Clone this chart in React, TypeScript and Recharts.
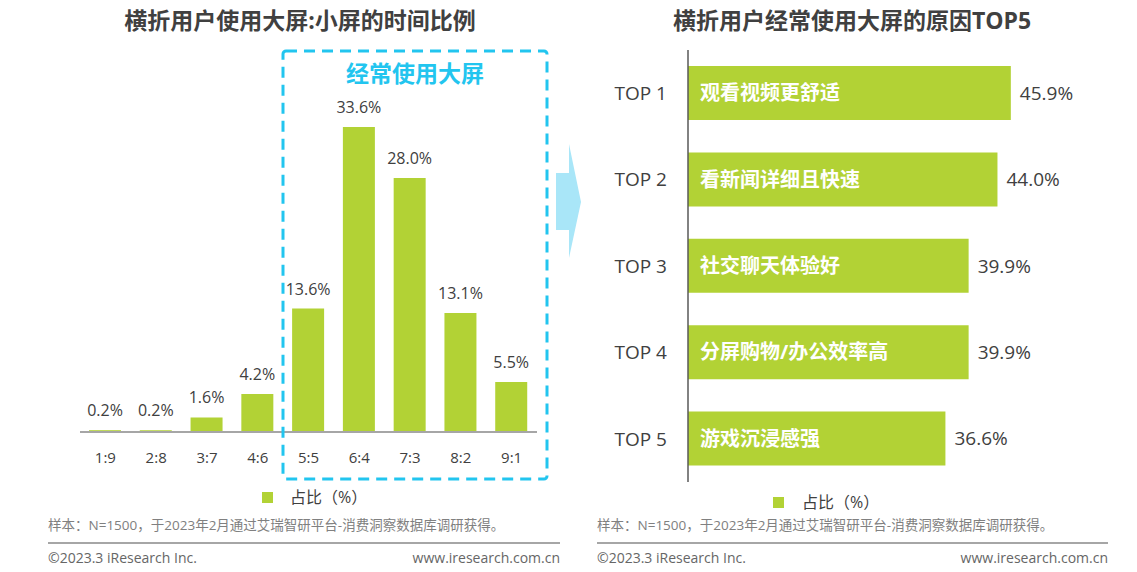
import React from 'react'
import { BarChart, Bar, XAxis, YAxis, LabelList } from 'recharts'

// left chart: time ratio big screen : small screen
const ratioLabels = ['1:9', '2:8', '3:7', '4:6', '5:5', '6:4', '7:3', '8:2', '9:1']
const ratioShares = [0.2, 0.2, 1.6, 4.2, 13.6, 33.6, 28.0, 13.1, 5.5]

// right chart: top 5 reasons
const rankLabels = ['TOP 1', 'TOP 2', 'TOP 3', 'TOP 4', 'TOP 5']
const reasonNames = ['观看视频更舒适', '看新闻详细且快速', '社交聊天体验好', '分屏购物/办公效率高', '游戏沉浸感强']
const reasonShares = [45.9, 44.0, 39.9, 39.9, 36.6]

const GREEN = '#B2D235'
const CYAN = '#22C5EF'
const TEXT = '#404040'
const FONT = "'Open Sans', 'Noto Sans CJK SC', sans-serif"

const leftData = ratioLabels.map((r, i) => ({ ratio: r, share: ratioShares[i] }))
const rightData = rankLabels.map((r, i) => ({ rank: r, reason: reasonNames[i], share: reasonShares[i] }))

const pct = (v: any) => `${Number(v).toFixed(1)}%`

const abs = (left: number, top: number, extra: React.CSSProperties = {}): React.CSSProperties => ({
  position: 'absolute', left, top, whiteSpace: 'nowrap', ...extra,
})

function Legend({ x, y, textX }: { x: number; y: number; textX: number }) {
  return (
    <>
      <div style={abs(x, y - 5.5, { width: 11, height: 11, background: GREEN })} />
      <div style={abs(textX, y - 11, { fontSize: 16, lineHeight: '22px', color: TEXT })}>占比（%）</div>
    </>
  )
}

function Footer({ x, right }: { x: number; right: number }) {
  return (
    <>
      <div style={abs(x, 516, { fontSize: 13.5, lineHeight: '18px', color: '#808080' })}>
        样本：N=1500，于2023年2月通过艾瑞智研平台-消费洞察数据库调研获得。
      </div>
      <div style={abs(x, 542, { width: right - x, height: 2, background: '#a6a6a6' })} />
      <div style={abs(x, 549, { fontSize: 14, lineHeight: '18px', color: '#666' })}>©2023.3 iResearch Inc.</div>
      <div style={abs(right - 200, 549, { width: 200, textAlign: 'right', fontSize: 14, lineHeight: '18px', color: '#666' })}>
        www.iresearch.com.cn
      </div>
    </>
  )
}

export default function App() {
  return (
    <div style={{ position: 'absolute', left: 0, top: 0, width: 1137, height: 572, background: '#fff', fontFamily: FONT, overflow: 'hidden' }}>
      <div style={abs(0, 6, { width: 600, textAlign: 'center', fontSize: 23, lineHeight: '28px', fontWeight: 'bold', color: TEXT })}>
        横折用户使用大屏:小屏的时间比例
      </div>
      <div style={abs(580, 6, { width: 544, textAlign: 'center', fontSize: 23, lineHeight: '28px', fontWeight: 'bold', color: TEXT })}>
        横折用户经常使用大屏的原因TOP5
      </div>

      <div style={abs(0, 0)}>
        <BarChart width={560} height={480} data={leftData} margin={{ top: 69, right: 23, left: 80, bottom: 18 }}>
          <XAxis
            dataKey="ratio"
            height={30}
            tickLine={false}
            tickSize={0}
            tickMargin={20}
            axisLine={{ stroke: '#a6a6a6', strokeWidth: 2 }}
            tick={{ fontSize: 15, fill: TEXT, fontFamily: FONT }}
          />
          <YAxis hide domain={[0, 40]} />
          <Bar dataKey="share" fill={GREEN} barSize={32} isAnimationActive={false}>
            <LabelList dataKey="share" position="top" offset={14} formatter={pct} fill={TEXT} fontSize={16} fontFamily={FONT} />
          </Bar>
        </BarChart>
      </div>

      <div style={abs(580, 0)}>
        <BarChart width={557} height={490} data={rightData} layout="vertical" margin={{ top: 50, right: 27, left: 20, bottom: 8 }}>
          <XAxis type="number" hide domain={[0, 60]} />
          <YAxis
            type="category"
            dataKey="rank"
            width={88}
            tickLine={false}
            tickSize={0}
            tickMargin={21}
            axisLine={{ stroke: '#595959', strokeWidth: 1.5 }}
            tick={{ fontSize: 19, fill: TEXT, fontFamily: FONT }}
          />
          <Bar dataKey="share" fill={GREEN} barSize={54} isAnimationActive={false}>
            <LabelList dataKey="reason" position="insideLeft" offset={12} fill="#fff" fontSize={20} fontWeight="bold" fontFamily={FONT} />
            <LabelList dataKey="share" position="right" offset={9} formatter={pct} fill={TEXT} fontSize={19} fontFamily={FONT} />
          </Bar>
        </BarChart>
      </div>

      <svg width={1137} height={572} style={{ position: 'absolute', left: 0, top: 0, pointerEvents: 'none' }}>
        <rect x={283} y={51} width={264} height={428} rx={3} fill="none" stroke={CYAN} strokeWidth={3} strokeDasharray="11 7" />
        <polygon points="556,173 569,173 569,144 581,202 569,258 569,230 556,230" fill="#A9E6F8" />
      </svg>
      <div style={abs(283, 58, { width: 264, textAlign: 'center', fontSize: 23, lineHeight: '30px', fontWeight: 'bold', color: CYAN })}>
        经常使用大屏
      </div>

      <Legend x={262} y={497} textX={290} />
      <Legend x={773} y={502} textX={802} />

      <Footer x={48} right={560} />
      <Footer x={597} right={1108} />
    </div>
  )
}
